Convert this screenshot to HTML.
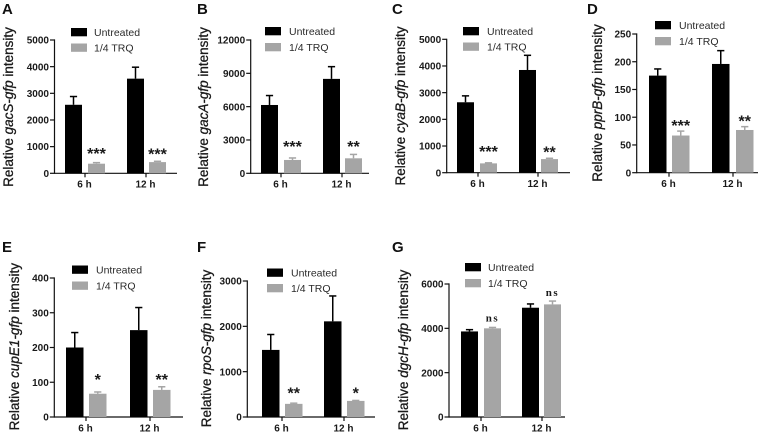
<!DOCTYPE html>
<html>
<head>
<meta charset="utf-8">
<title>Relative gfp intensity panels</title>
<style>
html,body{margin:0;padding:0;background:#fff;width:768px;height:438px;overflow:hidden}
svg{display:block;font-family:"Liberation Sans",sans-serif;filter:blur(0.3px)}
</style>
</head>
<body>
<svg id="figure" width="768" height="438" viewBox="0 0 768 438" xmlns="http://www.w3.org/2000/svg"></svg>
<script>
// Shared labels
const timeCategories = ['6 h', '12 h'];
const seriesNames = ['Untreated', '1/4 TRQ'];

// Panel A: gacS
const gacSUntreated = [2570, 3550];
const gacSUntreatedError = [310, 430];
const gacSTreated = [360, 420];
const gacSTreatedError = [40, 30];
const gacSSignificance = ['***', '***'];
const gacSTicks = [0, 1000, 2000, 3000, 4000, 5000];

// Panel B: gacA
const gacAUntreated = [6150, 8500];
const gacAUntreatedError = [850, 1100];
const gacATreated = [1200, 1350];
const gacATreatedError = [180, 350];
const gacASignificance = ['***', '**'];
const gacATicks = [0, 3000, 6000, 9000, 12000];

// Panel C: cyaB
const cyaBUntreated = [2640, 3850];
const cyaBUntreatedError = [240, 550];
const cyaBTreated = [350, 510];
const cyaBTreatedError = [20, 30];
const cyaBSignificance = ['***', '**'];
const cyaBTicks = [0, 1000, 2000, 3000, 4000, 5000];

// Panel D: pprB
const pprBUntreated = [175, 196];
const pprBUntreatedError = [12, 24];
const pprBTreated = [67, 77];
const pprBTreatedError = [8, 6];
const pprBSignificance = ['***', '**'];
const pprBTicks = [0, 50, 100, 150, 200, 250];

// Panel E: cupE1
const cupE1Untreated = [200, 250];
const cupE1UntreatedError = [43, 65];
const cupE1Treated = [67, 78];
const cupE1TreatedError = [5, 9];
const cupE1Significance = ['*', '**'];
const cupE1Ticks = [0, 100, 200, 300, 400];

// Panel F: rpoS
const rpoSUntreated = [1480, 2110];
const rpoSUntreatedError = [340, 560];
const rpoSTreated = [290, 355];
const rpoSTreatedError = [15, 10];
const rpoSSignificance = ['**', '*'];
const rpoSTicks = [0, 1000, 2000, 3000];

// Panel G: dgcH
const dgcHUntreated = [3860, 4930];
const dgcHUntreatedError = [80, 170];
const dgcHTreated = [4000, 5080];
const dgcHTreatedError = [40, 150];
const dgcHSignificance = ['ns', 'ns'];
const dgcHTicks = [0, 2000, 4000, 6000];

const panels = [
  {letter:'A', gene:'gacS-gfp', u:gacSUntreated, ue:gacSUntreatedError, t:gacSTreated, te:gacSTreatedError, sig:gacSSignificance, ticks:gacSTicks, lift:[3.5,2],
   letterX:2, letterY:14, labelX:9, labelY:107, axisX:54.5, axisEnd:177, top:40, bottom:173.3, bars:[65,88,127,149], barW:17, tickX:[85,146], legendX:71, legendY:[28,43.5], legendTextX:94},
  {letter:'B', gene:'gacA-gfp', u:gacAUntreated, ue:gacAUntreatedError, t:gacATreated, te:gacATreatedError, sig:gacASignificance, ticks:gacATicks, lift:[6,2.5],
   letterX:197, letterY:14, labelX:204, labelY:107, axisX:250.7, axisEnd:369, top:40, bottom:173.3, bars:[261,284,323,345], barW:17, tickX:[281,342], legendX:265, legendY:[27,43], legendTextX:289},
  {letter:'C', gene:'cyaB-gfp', u:cyaBUntreated, ue:cyaBUntreatedError, t:cyaBTreated, te:cyaBTreatedError, sig:cyaBSignificance, ticks:cyaBTicks, lift:[6,1],
   letterX:392, letterY:14, labelX:401, labelY:106, axisX:446.7, axisEnd:570, top:39.3, bottom:172.7, bars:[457,480,519,541], barW:17, tickX:[478,538], legendX:463, legendY:[27,42.5], legendTextX:487},
  {letter:'D', gene:'pprB-gfp', u:pprBUntreated, ue:pprBUntreatedError, t:pprBTreated, te:pprBTreatedError, sig:pprBSignificance, ticks:pprBTicks, lift:[0,0],
   letterX:587, letterY:14, labelX:598, labelY:103, axisX:636.7, axisEnd:758, top:34, bottom:172.7, bars:[649,672,712,736], barW:17.5, tickX:[669,733], legendX:655, legendY:[21,37], legendTextX:679},
  {letter:'E', gene:'cupE1-gfp', u:cupE1Untreated, ue:cupE1UntreatedError, t:cupE1Treated, te:cupE1TreatedError, sig:cupE1Significance, ticks:cupE1Ticks, lift:[7,2],
   letterX:2, letterY:252, labelX:15, labelY:346.7, axisX:54.3, axisEnd:183, top:278, bottom:417, bars:[66,89,130,153], barW:17.5, tickX:[86,150], legendX:72, legendY:[265.5,281.5], legendTextX:96},
  {letter:'F', gene:'rpoS-gfp', u:rpoSUntreated, ue:rpoSUntreatedError, t:rpoSTreated, te:rpoSTreatedError, sig:rpoSSignificance, ticks:rpoSTicks, lift:[4.5,2],
   letterX:197, letterY:252, labelX:207, labelY:348.5, axisX:247.3, axisEnd:375, top:281, bottom:417, bars:[262,285,324,347], barW:17.5, tickX:[282,344], legendX:267, legendY:[268.5,284], legendTextX:291},
  {letter:'G', gene:'dgcH-gfp', u:dgcHUntreated, ue:dgcHUntreatedError, t:dgcHTreated, te:dgcHTreatedError, sig:dgcHSignificance, ticks:dgcHTicks, lift:[1,0],
   letterX:392, letterY:252, labelX:404, labelY:350, axisX:449, axisEnd:565, top:284, bottom:417, bars:[461,484,522,544], barW:17, tickX:[481,542], legendX:465, legendY:[263,279], legendTextX:488}
];

const SVG_NS = 'http://www.w3.org/2000/svg';
const figure = document.getElementById('figure');
const BLACK = '#000000';
const GRAY = '#a5a5a5';

function make(parent, tag, attrs, text) {
  const el = document.createElementNS(SVG_NS, tag);
  for (const k in attrs) el.setAttribute(k, attrs[k]);
  if (text !== undefined) el.textContent = text;
  parent.appendChild(el);
  return el;
}

function drawBar(g, p, scale, x, value, err, color, name) {
  const y = scale(value);
  const topY = scale(value + err);
  const cx = x + p.barW / 2;
  const bar = make(g, 'rect', {x:x, y:y, width:p.barW, height:p.bottom - y, fill:color});
  
  
  const stem = make(g, 'line', {x1:cx, x2:cx, y1:y, y2:topY, stroke:color, 'stroke-width':1.5});
  
  
  const cap = make(g, 'line', {x1:cx - 3.6, x2:cx + 3.6, y1:topY, y2:topY, stroke:color, 'stroke-width':1.5});
  
  
  return topY;
}

panels.forEach(function (p) {
  const id = p.letter.toLowerCase();
  const maxTick = p.ticks[p.ticks.length - 1];
  const scale = function (v) { return p.bottom - (v / maxTick) * (p.bottom - p.top); };

  const g = make(figure, 'g', {});
  
  

  const letter = make(g, 'text', {x:p.letterX, y:p.letterY, 'font-size':15, 'font-weight':'bold', fill:'#111'}, p.letter);
  
  

  const label = make(g, 'text', {
    transform:'translate(' + p.labelX + ',' + p.labelY + ') rotate(-90)',
    'text-anchor':'middle', 'dominant-baseline':'middle',
    'font-size':13.5, fill:'#1a1a1a', stroke:'#1a1a1a', 'stroke-width':0.3
  });
  
  
  make(label, 'tspan', {}, 'Relative ');
  make(label, 'tspan', {'font-style':'italic'}, p.gene);
  make(label, 'tspan', {}, ' intensity');

  const yAxis = make(g, 'line', {x1:p.axisX, x2:p.axisX, y1:p.top - 0.6, y2:p.bottom + 0.6, stroke:'#111', 'stroke-width':1.2});
  
  
  const xAxis = make(g, 'line', {x1:p.axisX, x2:p.axisEnd, y1:p.bottom, y2:p.bottom, stroke:'#111', 'stroke-width':1.2});
  
  

  p.ticks.forEach(function (t) {
    const y = scale(t);
    const mark = make(g, 'line', {x1:p.axisX - 4.5, x2:p.axisX, y1:y, y2:y, stroke:'#111', 'stroke-width':1.2});
    
    
    const lab = make(g, 'text', {x:p.axisX - 5.5, y:y + 3.6, 'text-anchor':'end', 'font-size':10, 'font-weight':'bold', fill:'#1a1a1a'}, String(t));
    
    
  });

  timeCategories.forEach(function (cat, i) {
    const mark = make(g, 'line', {x1:p.tickX[i], x2:p.tickX[i], y1:p.bottom, y2:p.bottom + 4, stroke:'#111', 'stroke-width':1.2});
    
    
    const lab = make(g, 'text', {x:p.tickX[i] - 0.5, y:p.bottom + 14.3, 'text-anchor':'middle', 'font-size':10, 'font-weight':'bold', fill:'#1a1a1a'}, cat);
    
    

    drawBar(g, p, scale, p.bars[i * 2], p.u[i], p.ue[i], BLACK, 'untreated-' + id + '-' + i);
    const topY = drawBar(g, p, scale, p.bars[i * 2 + 1], p.t[i], p.te[i], GRAY, 'treated-' + id + '-' + i);

    const cx = p.bars[i * 2 + 1] + p.barW / 2;
    const isNs = p.sig[i] === 'ns';
    const sig = make(g, 'text', {
      x:cx, y:(isNs ? topY - 5 : topY) - p.lift[i],
      'text-anchor':'middle',
      'font-size':isNs ? 11 : 16,
      'font-weight':'bold',
      fill:'#1a1a1a',
      'letter-spacing':isNs ? 1.5 : 0,
      'font-family':isNs ? '"Liberation Serif", serif' : '"Liberation Sans", sans-serif'
    }, p.sig[i]);
    
    
  });

  seriesNames.forEach(function (name, i) {
    const swatch = make(g, 'rect', {x:p.legendX, y:p.legendY[i], width:16, height:8.3, fill:i === 0 ? BLACK : GRAY});
    
    
    const lab = make(g, 'text', {x:p.legendTextX, y:p.legendY[i] + 8, 'font-size':10.5, fill:'#2a2a2a'}, name);
    
    
  });
});
</script>
</body>
</html>
